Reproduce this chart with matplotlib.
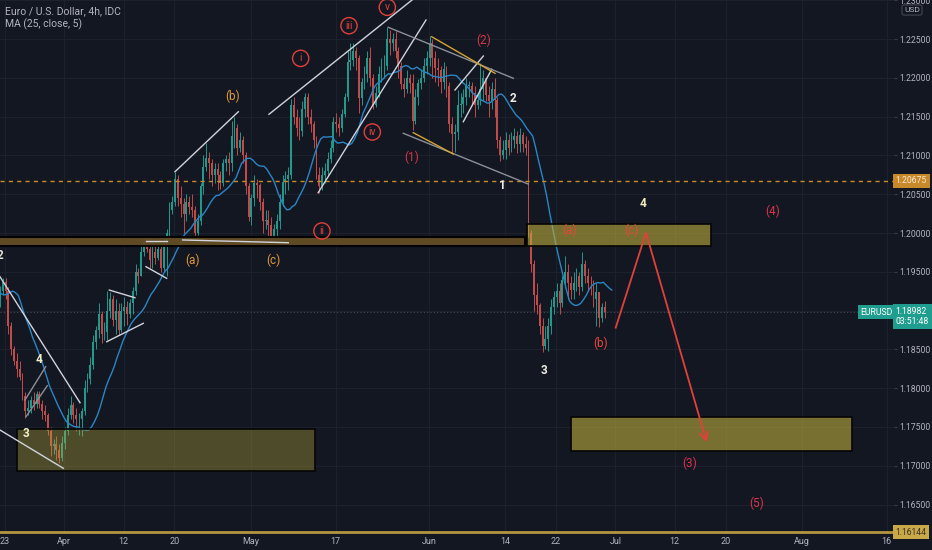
import numpy as np
import pandas as pd
import matplotlib
matplotlib.use("Agg")
import matplotlib.pyplot as plt
import matplotlib.transforms as mtransforms
from matplotlib.patches import Rectangle

plt.rcParams['font.family'] = ['Roboto', 'DejaVu Sans']

# ----------------------------
# DATA  (EURUSD, read off the 4h chart as 3 bars per trading day)
# ----------------------------
FIRST_DAY = '2021-03-15'
LAST_DAY = '2021-06-29'
ORIGIN_DAY = '2021-03-23'      # first labelled day of the time axis
FIRST_OPEN = 1.1940

closes = [
    # Mar 15-19
    1.1945, 1.1935, 1.1930, 1.1920, 1.1905, 1.1900, 1.1905, 1.1895, 1.1975, 1.1985, 1.1935, 1.1915, 1.1920, 1.1890, 1.1905,
    # Mar 22-26
    1.1915, 1.1925, 1.1937, 1.1925, 1.1880, 1.1850, 1.1835, 1.1825, 1.1815, 1.1790, 1.1770, 1.1775, 1.1785, 1.1780, 1.1792,
    # Mar 29 - Apr 2
    1.1780, 1.1770, 1.1765, 1.1745, 1.1725, 1.1728, 1.1720, 1.1710, 1.1730, 1.1745, 1.1765, 1.1778, 1.1765, 1.1760, 1.1760,
    # Apr 5-9
    1.1770, 1.1800, 1.1812, 1.1830, 1.1860, 1.1875, 1.1895, 1.1870, 1.1872, 1.1900, 1.1915, 1.1888, 1.1900, 1.1875, 1.1900,
    # Apr 12-16
    1.1905, 1.1895, 1.1910, 1.1925, 1.1950, 1.1945, 1.1975, 1.1990, 1.1980, 1.1965, 1.1975, 1.1968, 1.1980, 1.1955, 1.1985,
    # Apr 19-23
    1.2000, 1.2030, 1.2040, 1.2070, 1.2045, 1.2037, 1.2025, 1.2040, 1.2033, 1.2030, 1.2000, 1.2015, 1.2060, 1.2085, 1.2097,
    # Apr 26-30
    1.2090, 1.2075, 1.2083, 1.2075, 1.2065, 1.2090, 1.2095, 1.2090, 1.2125, 1.2135, 1.2110, 1.2120, 1.2100, 1.2060, 1.2020,
    # May 3-7
    1.2045, 1.2065, 1.2062, 1.2040, 1.2015, 1.2017, 1.2010, 1.1995, 1.2005, 1.2015, 1.2040, 1.2066, 1.2070, 1.2075, 1.2165,
    # May 10-14
    1.2150, 1.2135, 1.2132, 1.2160, 1.2175, 1.2149, 1.2140, 1.2120, 1.2075, 1.2060, 1.2075, 1.2080, 1.2095, 1.2110, 1.2143,
    # May 17-21
    1.2140, 1.2135, 1.2153, 1.2175, 1.2220, 1.2223, 1.2235, 1.2225, 1.2174, 1.2195, 1.2205, 1.2226, 1.2200, 1.2165, 1.2180,
    # May 24-28
    1.2205, 1.2215, 1.2215, 1.2250, 1.2245, 1.2250, 1.2235, 1.2215, 1.2192, 1.2185, 1.2200, 1.2193, 1.2145, 1.2175, 1.2193,
    # May 31 - Jun 4
    1.2200, 1.2215, 1.2225, 1.2245, 1.2225, 1.2213, 1.2210, 1.2195, 1.2211, 1.2190, 1.2140, 1.2127, 1.2130, 1.2165, 1.2166,
    # Jun 7-11
    1.2175, 1.2190, 1.2190, 1.2180, 1.2165, 1.2172, 1.2185, 1.2200, 1.2178, 1.2170, 1.2185, 1.2172, 1.2120, 1.2100, 1.2107,
    # Jun 14-18
    1.2120, 1.2110, 1.2120, 1.2125, 1.2115, 1.2126, 1.2115, 1.2110, 1.2000, 1.1960, 1.1920, 1.1907, 1.1880, 1.1855, 1.1864,
    # Jun 21-25
    1.1880, 1.1905, 1.1917, 1.1925, 1.1910, 1.1939, 1.1950, 1.1935, 1.1926, 1.1935, 1.1945, 1.1930, 1.1960, 1.1945, 1.1936,
    # Jun 28-29
    1.1935, 1.1915, 1.1924, 1.1890, 1.1905, 1.18982,
]

highs = [
    1.1950, 1.1948, 1.1945, 1.1950, 1.1935, 1.1915, 1.1915, 1.1910, 1.1985, 1.1990, 1.1985, 1.1940, 1.1935, 1.1925, 1.1910,
    1.1920, 1.1932, 1.1942, 1.1942, 1.1930, 1.1885, 1.1855, 1.1845, 1.1835, 1.1820, 1.1795, 1.1785, 1.1790, 1.1795, 1.1797,
    1.1797, 1.1785, 1.1778, 1.1768, 1.1750, 1.1735, 1.1738, 1.1728, 1.1738, 1.1750, 1.1775, 1.1790, 1.1782, 1.1775, 1.1768,
    1.1775, 1.1810, 1.1820, 1.1840, 1.1868, 1.1880, 1.1910, 1.1900, 1.1885, 1.1925, 1.1924, 1.1920, 1.1915, 1.1910, 1.1910,
    1.1918, 1.1912, 1.1915, 1.1930, 1.1960, 1.1955, 1.1985, 1.1995, 1.1994, 1.1992, 1.1990, 1.1985, 1.1992, 1.1990, 1.1994,
    1.2005, 1.2040, 1.2048, 1.2079, 1.2075, 1.2060, 1.2045, 1.2050, 1.2048, 1.2050, 1.2035, 1.2025, 1.2065, 1.2100, 1.2116,
    1.2105, 1.2095, 1.2090, 1.2090, 1.2080, 1.2095, 1.2100, 1.2105, 1.2145, 1.2150, 1.2140, 1.2130, 1.2125, 1.2105, 1.2065,
    1.2050, 1.2075, 1.2070, 1.2065, 1.2045, 1.2030, 1.2030, 1.2020, 1.2012, 1.2025, 1.2050, 1.2075, 1.2080, 1.2085, 1.2173,
    1.2175, 1.2160, 1.2150, 1.2170, 1.2181, 1.2180, 1.2160, 1.2145, 1.2125, 1.2085, 1.2085, 1.2090, 1.2105, 1.2120, 1.2150,
    1.2155, 1.2150, 1.2160, 1.2180, 1.2235, 1.2245, 1.2245, 1.2240, 1.2230, 1.2200, 1.2215, 1.2235, 1.2240, 1.2205, 1.2190,
    1.2215, 1.2225, 1.2230, 1.2266, 1.2262, 1.2258, 1.2260, 1.2240, 1.2220, 1.2200, 1.2210, 1.2205, 1.2205, 1.2185, 1.2198,
    1.2210, 1.2225, 1.2235, 1.2254, 1.2250, 1.2235, 1.2225, 1.2215, 1.2220, 1.2215, 1.2195, 1.2150, 1.2140, 1.2184, 1.2180,
    1.2185, 1.2200, 1.2196, 1.2195, 1.2190, 1.2180, 1.2219, 1.2210, 1.2200, 1.2190, 1.2195, 1.2200, 1.2175, 1.2125, 1.2120,
    1.2130, 1.2128, 1.2130, 1.2135, 1.2132, 1.2135, 1.2130, 1.2125, 1.2120, 1.2004, 1.1965, 1.1935, 1.1910, 1.1890, 1.1880,
    1.1890, 1.1915, 1.1925, 1.1935, 1.1935, 1.1945, 1.1970, 1.1960, 1.1945, 1.1950, 1.1955, 1.1950, 1.1975, 1.1965, 1.1955,
    1.1945, 1.1940, 1.1935, 1.1915, 1.1910, 1.1912,
]

lows = [
    1.1920, 1.1925, 1.1915, 1.1910, 1.1895, 1.1885, 1.1890, 1.1885, 1.1885, 1.1965, 1.1925, 1.1905, 1.1905, 1.1875, 1.1885,
    1.1890, 1.1905, 1.1920, 1.1915, 1.1870, 1.1843, 1.1830, 1.1815, 1.1810, 1.1785, 1.1762, 1.1765, 1.1768, 1.1772, 1.1775,
    1.1775, 1.1760, 1.1758, 1.1740, 1.1712, 1.1715, 1.1708, 1.1704, 1.1706, 1.1722, 1.1740, 1.1760, 1.1755, 1.1745, 1.1740,
    1.1738, 1.1765, 1.1795, 1.1805, 1.1825, 1.1850, 1.1865, 1.1858, 1.1862, 1.1862, 1.1890, 1.1880, 1.1870, 1.1868, 1.1872,
    1.1880, 1.1882, 1.1890, 1.1895, 1.1920, 1.1935, 1.1945, 1.1970, 1.1975, 1.1955, 1.1955, 1.1960, 1.1965, 1.1950, 1.1950,
    1.1945, 1.1995, 1.2025, 1.2035, 1.2035, 1.2020, 1.2000, 1.2015, 1.2025, 1.2020, 1.1996, 1.1998, 1.2010, 1.2050, 1.2080,
    1.2070, 1.2060, 1.2065, 1.2055, 1.2057, 1.2060, 1.2080, 1.2075, 1.2080, 1.2110, 1.2100, 1.2105, 1.2090, 1.2050, 1.2015,
    1.2010, 1.2035, 1.2045, 1.2030, 1.2000, 1.2005, 1.1995, 1.1986, 1.1990, 1.1990, 1.2005, 1.2035, 1.2050, 1.2055, 1.2070,
    1.2140, 1.2125, 1.2120, 1.2125, 1.2150, 1.2140, 1.2130, 1.2110, 1.2070, 1.2052, 1.2055, 1.2065, 1.2075, 1.2090, 1.2105,
    1.2130, 1.2125, 1.2130, 1.2150, 1.2170, 1.2210, 1.2215, 1.2210, 1.2155, 1.2165, 1.2185, 1.2195, 1.2190, 1.2160, 1.2162,
    1.2175, 1.2195, 1.2200, 1.2210, 1.2230, 1.2235, 1.2225, 1.2200, 1.2185, 1.2175, 1.2180, 1.2180, 1.2133, 1.2140, 1.2165,
    1.2185, 1.2195, 1.2205, 1.2215, 1.2200, 1.2195, 1.2190, 1.2180, 1.2185, 1.2175, 1.2130, 1.2103, 1.2105, 1.2120, 1.2150,
    1.2155, 1.2165, 1.2175, 1.2165, 1.2150, 1.2160, 1.2165, 1.2170, 1.2170, 1.2150, 1.2160, 1.2150, 1.2110, 1.2093, 1.2095,
    1.2095, 1.2100, 1.2105, 1.2110, 1.2103, 1.2105, 1.2105, 1.2100, 1.1995, 1.1950, 1.1900, 1.1895, 1.1870, 1.1847, 1.1850,
    1.1848, 1.1870, 1.1895, 1.1905, 1.1895, 1.1905, 1.1930, 1.1915, 1.1915, 1.1915, 1.1925, 1.1920, 1.1925, 1.1935, 1.1925,
    1.1920, 1.1905, 1.1880, 1.1879, 1.1885, 1.1890,
]

tick_days = ['2021-03-23', '2021-04-01', '2021-04-12', '2021-04-20', '2021-05-03', '2021-05-17', '2021-06-01',
             '2021-06-14', '2021-06-22', '2021-07-01', '2021-07-12', '2021-07-20', '2021-08-02', '2021-08-16']
tick_labels = ['23', 'Apr', '12', '20', 'May', '17', 'Jun', '14', '22', 'Jul', '12', '20', 'Aug', '16']
price_ticks = [1.165, 1.170, 1.175, 1.180, 1.185, 1.190, 1.195, 1.200, 1.205, 1.210, 1.215, 1.220, 1.225, 1.230]

last_price = 1.18982
countdown = '03:51:48'
alert_level = 1.20675
target_level = 1.16144
ma_length = 13          # 25 x 4h bars ~ 13 x 8h bars
ma_offset = 5 / 6       # 5 bars of 4h, in trading days

# drawings, x in trading days from ORIGIN_DAY
band = (-3.0, 61.34, 1.19832, 1.19955)
zones = [(1.47, 36.58, 1.16933, 1.17474, 0.35),
         (61.60, 83.24, 1.19836, 1.20112, 0.60),
         (66.77, 99.87, 1.17195, 1.17634, 0.60)]
white_lines = [
    [(-0.57, 1.19437), (8.87, 1.17813)],
    [(-0.57, 1.17461), (6.90, 1.16968)],
    [(12.32, 1.19265), (15.35, 1.19166)],
    [(12.02, 1.18599), (16.33, 1.18836)],
    [(16.65, 1.19901), (19.09, 1.19901)],
    [(16.65, 1.19566), (19.09, 1.19416)],
    [(20.98, 1.19910), (33.43, 1.19875)],
    [(20.07, 1.20790), (27.54, 1.21563)],
    [(31.15, 1.21530), (48.50, 1.23045)],
    [(36.95, 1.20519), (49.67, 1.22745)],
    [(53.09, 1.21843), (56.43, 1.22281)],
    [(54.07, 1.21434), (57.42, 1.22110)],
]
gray_lines = [
    [(2.38, 1.17848), (4.82, 1.18277)],
    [(2.50, 1.17633), (5.01, 1.18032)],
    [(45.23, 1.22651), (59.97, 1.21994)],
    [(46.99, 1.21285), (61.73, 1.20631)],
]
yellow_lines = [
    [(50.34, 1.22530), (57.81, 1.22058)],
    [(48.17, 1.21293), (52.89, 1.21018)],
]
projection = [(72.04, 1.18780), (75.61, 1.20004), (82.77, 1.17303)]

plain_labels = [  # text, x, price, colour, bold
    ('2', -0.57, 1.19716, '#e6e6dc', True),
    ('4', 4.03, 1.18372, '#f3efc2', True),
    ('3', 2.50, 1.17410, '#f3efc2', True),
    ('(a)', 22.16, 1.19643, '#e09a3a', False),
    ('(c)', 31.66, 1.19643, '#e09a3a', False),
    ('(b)', 26.88, 1.21757, '#e09a3a', False),
    ('(1)', 48.02, 1.20979, '#d8344a', False),
    ('(2)', 56.51, 1.22487, '#d8344a', False),
    ('2', 59.93, 1.21740, '#ecece4', True),
    ('1', 58.69, 1.20606, '#ecece4', True),
    ('3', 63.58, 1.18222, '#ecece4', True),
    ('4', 75.30, 1.20383, '#f3efc2', True),
    ('(4)', 90.51, 1.20284, '#d8344a', False),
    ('(a)', 66.65, 1.20039, '#e8463a', False),
    ('(c)', 73.93, 1.20039, '#e8463a', False),
    ('(b)', 70.31, 1.18579, '#e8463a', False),
    ('(3)', 80.72, 1.17032, '#d8344a', False),
    ('(5)', 88.70, 1.16517, '#d8344a', False),
]
circled_labels = [('i', 34.89, 1.22251), ('iii', 40.59, 1.22672), ('v', 45.11, 1.22909),
                  ('iv', 43.34, 1.21302), ('ii', 37.40, 1.20026)]

# ----------------------------
# STYLE
# ----------------------------
BG = '#131722'
GRID = '#1d212d'
TEXT = '#b2b5be'
UP = '#22998d'
DOWN = '#c04b4b'
RED = '#e2403a'
SCALE_FS = 6.2

# ----------------------------
# BARS
# ----------------------------
days = pd.bdate_range(FIRST_DAY, LAST_DAY)
day_x = np.busday_count(ORIGIN_DAY, days.values.astype('datetime64[D]'))
bar_x = (day_x[:, None] + np.array([0, 1, 2]) / 3 + 1 / 12).ravel()

c = np.array(closes)
o = np.r_[FIRST_OPEN, c[:-1]]
h = np.maximum(np.array(highs), np.maximum(o, c))
l = np.minimum(np.array(lows), np.minimum(o, c))
colors = np.where(c >= o, UP, DOWN)
ma = pd.Series(c).rolling(ma_length).mean().values

# ----------------------------
# FIGURE
# ----------------------------
fig = plt.figure(figsize=(9.32, 5.5), dpi=100, facecolor=BG)
ax = fig.add_axes([0, 16 / 550, 894 / 932, 534 / 550], facecolor=BG)
ax.set_xlim(-4.8 / 8.48, (894 - 4.8) / 8.48)
ax.set_ylim(1.16121, 1.23003)

ax.set_xticks(np.busday_count(ORIGIN_DAY, np.array(tick_days, dtype='datetime64[D]')))
ax.set_xticklabels(tick_labels)
ax.yaxis.tick_right()
ax.set_yticks(price_ticks)
ax.set_yticklabels(['' if abs(p - 1.19) < 1e-9 else f'{p:.5f}' for p in price_ticks])
ax.tick_params(axis='x', length=0, pad=2, labelsize=6.5, colors=TEXT)
ax.tick_params(axis='y', length=2, pad=1.5, labelsize=SCALE_FS, colors=TEXT, color='#3a3e4a')
ax.grid(True, color=GRID, lw=0.8)
ax.set_axisbelow(True)
for s in ax.spines.values():
    s.set_visible(False)

# candles
ax.vlines(bar_x, l, h, colors=colors, lw=0.7, zorder=2)
body = np.maximum(np.abs(c - o), 0.00006)
ax.bar(bar_x, body, bottom=np.minimum(o, c), width=0.22, color=colors, lw=0, zorder=2)
ax.plot(bar_x + ma_offset, ma, color='#2a86c4', lw=1.0, zorder=3)

# horizontal levels
ax.axhline(alert_level, color='#c8892a', lw=1, ls=(0, (3, 3)), zorder=3)
ax.axhline(last_price, color='#3e4c58', lw=0.8, ls=(0, (1, 2)), zorder=1)
ax.axhline(target_level, color='#b39540', lw=2, zorder=3)

# zones
ax.add_patch(Rectangle((band[0], band[2]), band[1] - band[0], band[3] - band[2],
                       fc='#644d25', ec='#000000', lw=1.5, alpha=0.95, zorder=4))
for x0, x1, p0, p1, a in zones:
    ax.add_patch(Rectangle((x0, p0), x1 - x0, p1 - p0, fc=(0.74, 0.68, 0.23, a), ec='#050505', lw=1.2, zorder=4))

# trend lines
for seg in white_lines:
    (xa, pa), (xb, pb) = seg
    ax.plot([xa, xb], [pa, pb], color='#d1d4dc', lw=1, zorder=5)
for seg in gray_lines:
    (xa, pa), (xb, pb) = seg
    ax.plot([xa, xb], [pa, pb], color='#8c8f98', lw=1, zorder=5)
for seg in yellow_lines:
    (xa, pa), (xb, pb) = seg
    ax.plot([xa, xb], [pa, pb], color='#d7a52e', lw=1, zorder=5)

# projected path
px, pp = zip(*projection)
ax.plot(px[:2], pp[:2], color=RED, lw=1.3, zorder=5)
ax.annotate('', xy=projection[2], xytext=projection[1],
            arrowprops=dict(arrowstyle='->,head_length=0.6,head_width=0.3', color=RED, lw=1.3,
                            shrinkA=0, shrinkB=0), zorder=5)

# wave labels
for txt, x, p, col, bold in plain_labels:
    ax.text(x, p, txt, color=col, fontsize=8.5, ha='center', va='center',
            fontweight='bold' if bold else 'normal', zorder=6)
for txt, x, p in circled_labels:
    ax.text(x, p, txt, color=RED, fontsize=7.5, ha='center', va='center', zorder=6,
            bbox=dict(boxstyle='circle,pad=0.3', fc='none', ec=RED, lw=1))

# price scale boxes
trans = mtransforms.blended_transform_factory(ax.transAxes, ax.transData)
ax.text(1.002, alert_level, f'{alert_level:.5f}', transform=trans, ha='left', va='center',
        fontsize=SCALE_FS, color='#f4ead6', clip_on=False, zorder=7,
        bbox=dict(boxstyle='square,pad=0.3', fc='#c8892a', ec='none'))
ax.text(1.002, target_level, f'{target_level:.5f}', transform=trans, ha='left', va='center',
        fontsize=SCALE_FS, color='#3a3320', clip_on=False, zorder=7,
        bbox=dict(boxstyle='square,pad=0.3', fc='#c9a84a', ec='none'))
ax.text(0.9985, last_price, 'EURUSD', transform=trans, ha='right', va='center',
        fontsize=6.2, color='white', zorder=7,
        bbox=dict(boxstyle='square,pad=0.3', fc='#1f9e8f', ec='none'))
ax.annotate(f'{last_price:.5f}\n{countdown}', xy=(1.002, last_price), xycoords=trans,
            xytext=(0, 5), textcoords='offset pixels', ha='left', va='top',
            fontsize=SCALE_FS, color='white', linespacing=1.15, annotation_clip=False, zorder=7,
            bbox=dict(boxstyle='square,pad=0.3', fc='#1f9e8f', ec='none'))

fig.text(912 / 932, 1 - 10 / 550, 'USD', ha='center', va='center', fontsize=6.0, color=TEXT,
         bbox=dict(boxstyle='round,pad=0.25', fc='none', ec='#434651', lw=0.8))

# legend
fig.text(5 / 932, 1 - 11 / 550, 'Euro / U.S. Dollar, 4h, IDC', ha='left', va='center', fontsize=7.5, color=TEXT)
fig.text(5 / 932, 1 - 24 / 550, 'MA (25, close, 5)', ha='left', va='center', fontsize=7.5, color=TEXT)

fig.savefig('out.png', dpi=100, facecolor=BG)
